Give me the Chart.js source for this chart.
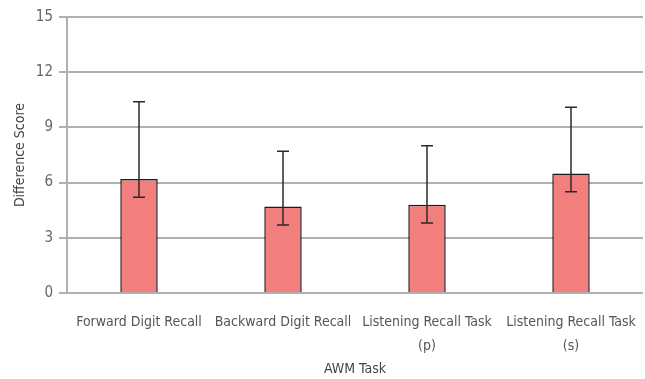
<!DOCTYPE html>
<html>
<head>
<meta charset="utf-8">
<script src="https://cdn.jsdelivr.net/npm/chart.js@4/dist/chart.umd.min.js"></script>
<style>
  html, body { margin: 0; padding: 0; background: #fff; }
  #wrap { width: 645px; height: 379px; position: relative; }
</style>
</head>
<body>
<div id="wrap"><canvas id="c"></canvas></div>
<script>
// AWM task difference scores with error bar bounds
const categories = [
  "Forward Digit Recall",
  "Backward Digit Recall",
  ["Listening Recall Task", "(p)"],
  ["Listening Recall Task", "(s)"]
];
const scores = [6.2, 4.7, 4.8, 6.5];
const errUpper = [10.4, 7.7, 8.0, 10.1];
const errLower = [5.2, 3.7, 3.8, 5.5];
const yTicks = [0, 3, 6, 9, 12, 15];

const FONT = "'DejaVu Sans Condensed', sans-serif";

// Draws vertical whiskers with caps for each bar
const errorBars = {
  id: 'errorBars',
  afterDatasetsDraw(chart) {
    const ctx = chart.ctx;
    const meta = chart.getDatasetMeta(0);
    const y = chart.scales.y;
    ctx.save();
    ctx.strokeStyle = '#2a2a2a';
    ctx.lineWidth = 1.5;
    meta.data.forEach((bar, i) => {
      const x = bar.x;
      const yt = y.getPixelForValue(errUpper[i]);
      const yb = y.getPixelForValue(errLower[i]);
      const cap = 6;
      ctx.beginPath();
      ctx.moveTo(x, yt); ctx.lineTo(x, yb);
      ctx.moveTo(x - cap, yt); ctx.lineTo(x + cap, yt);
      ctx.moveTo(x - cap, yb); ctx.lineTo(x + cap, yb);
      ctx.stroke();
    });
    ctx.restore();
  }
};

new Chart(document.getElementById('c'), {
  type: 'bar',
  data: {
    labels: categories,
    datasets: [{
      data: scores,
      backgroundColor: '#f27e7e',
      borderColor: '#1a1a1a',
      borderWidth: 1.5,
      categoryPercentage: 1.0,
      barPercentage: 0.26
    }]
  },
  options: {
    responsive: true,
    maintainAspectRatio: false,
    animation: false,
    layout: { padding: { top: 17, right: 2, left: 0, bottom: 0 } },
    plugins: { legend: { display: false }, tooltip: { enabled: false } },
    scales: {
      x: {
        afterFit(scale) {
          scale.height = 86;
          scale.paddingLeft = 0;
          scale.paddingRight = 0;
        },
        grid: { display: false, drawTicks: false },
        border: { display: false },
        ticks: {
          color: '#555', maxRotation: 0, autoSkip: false, padding: 17,
          font: { family: FONT, size: 14, lineHeight: 1.72 }
        },
        title: {
          display: true, text: 'AWM Task', color: '#444',
          font: { family: FONT, size: 14 }, padding: { top: 0, bottom: 1 }
        }
      },
      y: {
        afterFit(scale) { scale.width = 67; },
        min: 0, max: 15,
        afterBuildTicks(scale) { scale.ticks = yTicks.map(v => ({ value: v })); },
        grid: { color: '#b0b0b0', lineWidth: 2, tickLength: 8 },
        border: { color: '#b0b0b0', width: 2 },
        ticks: {
          color: '#666', padding: 6,
          font: { family: FONT, size: 15 }
        },
        title: {
          display: true, text: 'Difference Score', color: '#444',
          font: { family: FONT, size: 14 }, padding: { top: 12, bottom: 0 }
        }
      }
    }
  },
  plugins: [errorBars]
});
</script>
</body>
</html>
